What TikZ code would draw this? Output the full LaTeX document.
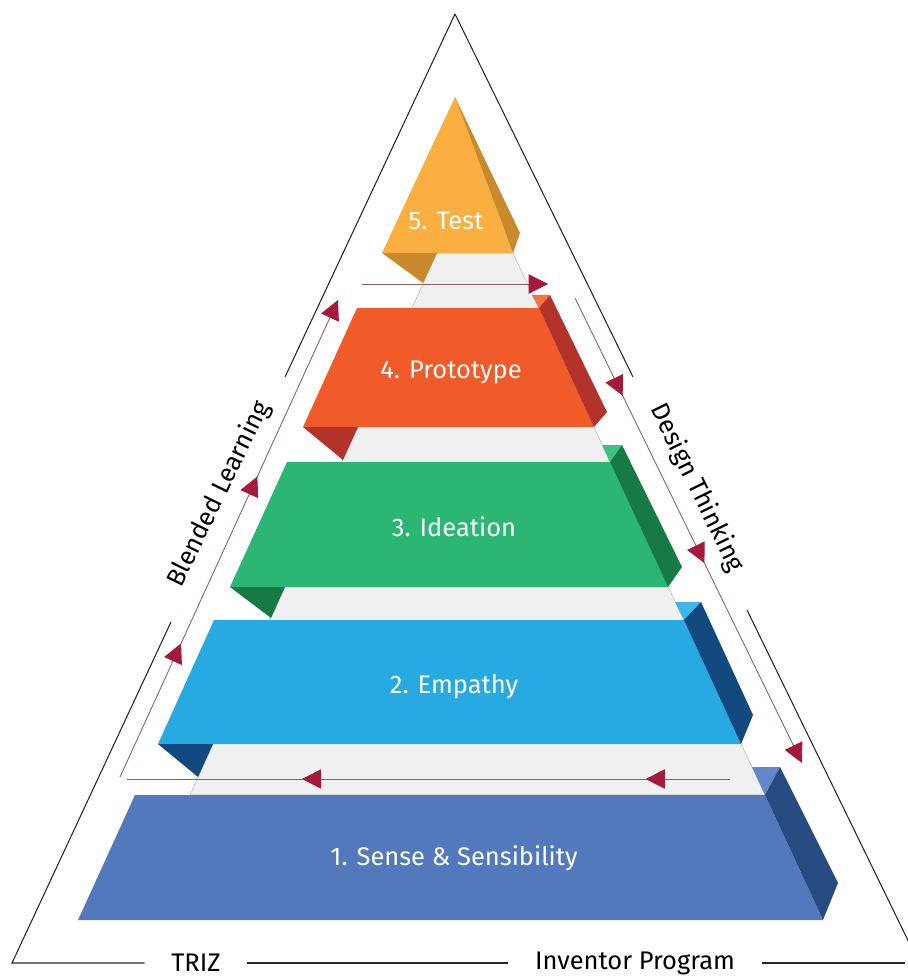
\documentclass[tikz,border=0pt]{standalone}
\usepackage{fontspec}
\setmainfont{Fira Sans}
\usetikzlibrary{arrows.meta,decorations.markings}

\definecolor{kjarnalitur}{HTML}{F0F0F0}
\definecolor{leidlina}{HTML}{8A6262}
\definecolor{oddlitur}{HTML}{A6193C}
\definecolor{gulur}{HTML}{FBAF41}
\definecolor{gulurdokkur}{HTML}{C98A2E}
\definecolor{raudur}{HTML}{F15A29}
\definecolor{raudurdokkur}{HTML}{B3322A}
\definecolor{raudurljos}{HTML}{F3713F}
\definecolor{graenn}{HTML}{2BB673}
\definecolor{graenndokkur}{HTML}{177A45}
\definecolor{graennljos}{HTML}{3EC284}
\definecolor{blar}{HTML}{27AAE1}
\definecolor{blardokkur}{HTML}{124A7F}
\definecolor{blarljos}{HTML}{3DB6EA}
\definecolor{grablar}{HTML}{5379BD}
\definecolor{grablardokkur}{HTML}{264B80}
\definecolor{grablarljos}{HTML}{6389CB}

\tikzset{oddur/.tip={Triangle[length=11pt,width=11pt,color=oddlitur]}}

\begin{document}
\begin{tikzpicture}[x=0.02cm, y=-0.02cm,
        ramma/.style={draw=black!85, line width=0.6pt},
        leid/.style={draw=leidlina, line width=0.5pt},
        merki/.style={text=white, font=\fontsize{14.5}{16}\selectfont},
        hlidtexti/.style={text=black, font=\fontsize{14.5}{16}\selectfont}]
        \useasboundingbox (0,0) rectangle (907,976);
        % rammi
        \coordinate (apex) at (455,14);
        \coordinate (nv) at (12,963);
        \coordinate (nh) at (919,963);
        \node[hlidtexti, inner xsep=15pt] (triz) at (196,963) {TRIZ};
        \node[hlidtexti, inner xsep=15pt] (inv) at (635,963) {Inventor Program};
        \node[hlidtexti, rotate=64] (blended) at (219,494) {Blended Learning};
        \node[hlidtexti, rotate=-64] (design) at (697,488) {Design Thinking};
        \draw [ramma] (apex) -- (285,377);
        \draw [ramma] (171,622) -- (nv) -- (triz.west);
        \draw [ramma] (triz.east) -- (inv.west);
        \draw [ramma] (inv.east) -- (905,963);
        \draw [ramma] (apex) -- (633,377);
        \draw [ramma] (747,610) -- (nh);
        % kjarni
        \fill [kjarnalitur, draw=black!28, line width=0.3pt] (437,253) -- (513,253) -- (765,795) -- (190,795) -- cycle;
        % 5. lag
        \fill [gulur] (455,97) -- (513,253) -- (382,253) -- cycle;
        \fill [gulurdokkur] (455,97) -- (520,233) -- (513,253) -- cycle;
        \fill [gulurdokkur] (382,253) -- (437,253) -- (423,283) -- cycle;
        % 4. lag
        \fill [raudurljos] (532,295) -- (550,295) -- (539,308) -- cycle;
        \fill [raudur] (357,308) -- (539,308) -- (594,427) -- (303,427) -- cycle;
        \fill [raudurdokkur] (539,308) -- (550,295) -- (607,412) -- (594,427) -- cycle;
        \fill [raudurdokkur] (303,427) -- (358,427) -- (343,460) -- cycle;
        % 3. lag
        \fill [graennljos] (602,445) -- (622,445) -- (610,462) -- cycle;
        \fill [graenn] (287,462) -- (610,462) -- (668,587) -- (230,587) -- cycle;
        \fill [graenndokkur] (610,462) -- (622,445) -- (682,567) -- (668,587) -- cycle;
        \fill [graenndokkur] (230,587) -- (285,587) -- (271,618) -- cycle;
        % 2. lag
        \fill [blarljos] (675,602) -- (701,602) -- (684,620) -- cycle;
        \fill [blar] (214,620) -- (684,620) -- (741,744) -- (158,744) -- cycle;
        \fill [blardokkur] (684,620) -- (701,602) -- (753,715) -- (741,744) -- cycle;
        \fill [blardokkur] (158,744) -- (213,744) -- (198,777) -- cycle;
        % 1. lag
        \fill [grablarljos] (752,767) -- (780,767) -- (765,795) -- cycle;
        \fill [grablar] (135,795) -- (765,795) -- (823,920) -- (78,920) -- cycle;
        \fill [grablardokkur] (765,795) -- (780,767) -- (838,883) -- (823,920) -- cycle;
        % heiti
        \node[merki] (test) at (446,221) {5. Test};
        \node[merki] (proto) at (451,372) {4. Prototype};
        \node[merki] (idea) at (454,527) {3. Ideation};
        \node[merki] (empa) at (454,687) {2. Empathy};
        \node[merki] (sense) at (454,858) {1. Sense \& Sensibility};
        % hringrás
        \coordinate (nedri-a) at (730,779);
        \coordinate (nedri-b) at (127,779);
        \coordinate (vinstri-a) at (120,777);
        \coordinate (vinstri-b) at (338,300);
        \coordinate (efri-a) at (362,284);
        \coordinate (efri-b) at (548,284);
        \coordinate (haegri-a) at (575,298);
        \coordinate (haegri-b) at (802,763);
        \draw [leid, postaction={decorate}, decoration={markings,
            mark=at position 0.14 with {\arrow{oddur}},
            mark=at position 0.71 with {\arrow{oddur}}}] (nedri-a) -- (nedri-b);
        \draw [leid, -{oddur}, postaction={decorate}, decoration={markings,
            mark=at position 0.28 with {\arrow{oddur}},
            mark=at position 0.63 with {\arrow{oddur}}}] (vinstri-a) -- (vinstri-b);
        \draw [leid, -{oddur}] (efri-a) -- (efri-b);
        \draw [leid, -{oddur}, postaction={decorate}, decoration={markings,
            mark=at position 0.21 with {\arrow{oddur}},
            mark=at position 0.57 with {\arrow{oddur}}}] (haegri-a) -- (haegri-b);
    \end{tikzpicture}
\end{document}
